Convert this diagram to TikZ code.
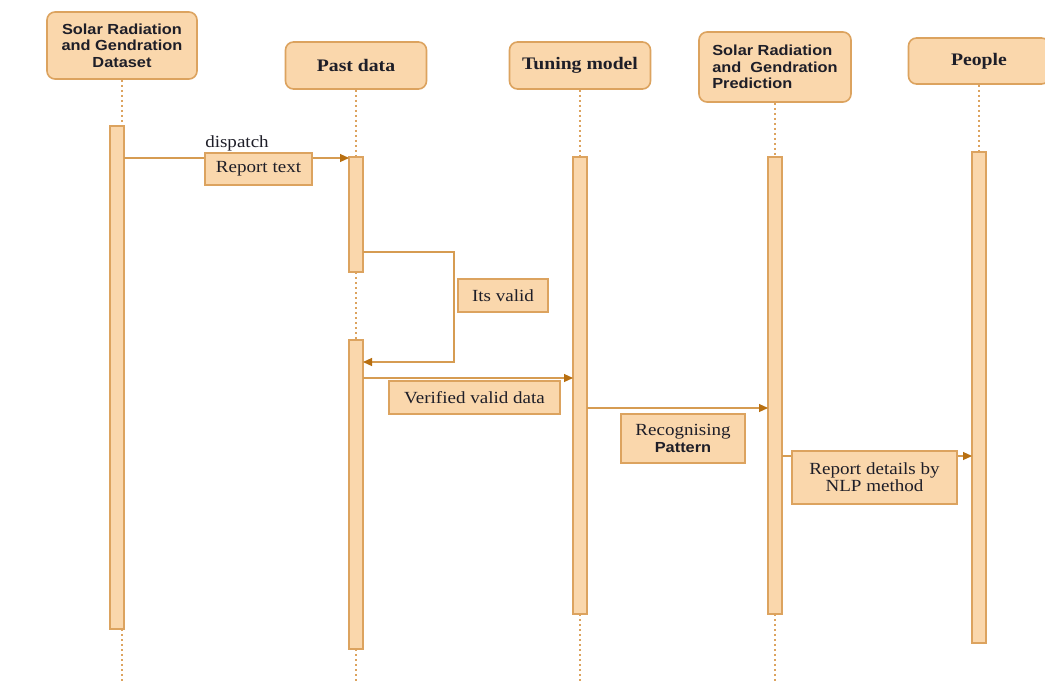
\documentclass[tikz,border=0pt]{standalone}
\usepackage{fontspec}
\setmainfont{Liberation Serif}
\newfontfamily\msgfont{Liberation Serif}[FakeStretch=1.12]
\newfontfamily\ttlfont{Liberation Serif}[FakeStretch=1.12]
\newfontfamily\hdsans{Liberation Sans}[FakeStretch=1.12]
\usetikzlibrary{arrows.meta}

\definecolor{boxfill}{HTML}{FAD7AC}
\definecolor{boxline}{HTML}{DCA35F}
\definecolor{msgline}{HTML}{D69C52}
\definecolor{tipcol}{HTML}{B86F10}
\definecolor{inkc}{HTML}{1E1E28}

\tikzset{
  head/.style={draw=boxline, fill=boxfill, line width=1.6pt, rounded corners=8pt,
    inner sep=0pt, text=inkc, align=center},
  sanshead/.style={head, font=\hdsans\bfseries\fontsize{14.6}{16.5}\selectfont},
  serifhead/.style={head, minimum width=141pt, font=\ttlfont\bfseries\fontsize{17.6}{20}\selectfont},
  act/.style={draw=boxline, fill=boxfill, line width=1.4pt, minimum width=14pt,
    inner sep=0pt, outer sep=0pt},
  life/.style={draw=boxline, line width=2pt, dash pattern=on 2pt off 3pt},
  msg/.style={draw=msgline, line width=1.2pt,
    -{Triangle[length=9pt,width=8pt,color=tipcol]}},
  lbl/.style={draw=boxline, fill=boxfill, line width=1.5pt, inner sep=0pt,
    text=inkc, align=center, font=\msgfont\fontsize{17}{17}\selectfont},
  plain/.style={text=inkc, inner sep=0pt, font=\msgfont\fontsize{17}{17}\selectfont}
}

\begin{document}
\begin{tikzpicture}[x=1pt,y=-1pt]
\fill[white] (0,0) rectangle (1045,681);
\useasboundingbox (0,0) rectangle (1045,681);

% participants
\node[sanshead, minimum width=150pt, minimum height=67pt] (dsHead) at (122,45.5)
  {Solar Radiation\\and Gendration\\Dataset};
\node[serifhead, minimum height=47pt] (pastHead) at (356,65.5) {Past data};
\node[serifhead, minimum height=47pt] (tuneHead) at (580,65.5) {Tuning model};
\node[sanshead, align=left, minimum width=152pt, minimum height=70pt] (predHead) at (775,67)
  {Solar Radiation\\and~~Gendration\\Prediction};
\node[serifhead, minimum height=46pt] (peopHead) at (979,61) {People};

% activation bars
\node[act, minimum height=503pt] (dsAct) at (117,377.5) {};
\node[act, minimum height=115pt] (pastAct1) at (356,214.5) {};
\node[act, minimum height=309pt] (pastAct2) at (356,494.5) {};
\node[act, minimum height=457pt] (tuneAct) at (580,385.5) {};
\node[act, minimum height=457pt] (predAct) at (775,385.5) {};
\node[act, minimum height=491pt] (peopAct) at (979,397.5) {};

% lifelines
\coordinate (bot) at (0,681);
\draw[life] (dsHead.south) -- (dsHead.south |- dsAct.north);
\draw[life] (dsHead.south |- dsAct.south) -- (dsHead.south |- bot);
\draw[life] (pastHead.south) -- (pastAct1.north);
\draw[life] (pastAct1.south) -- (pastAct2.north);
\draw[life] (pastAct2.south) -- (pastAct2.south |- bot);
\draw[life] (tuneHead.south) -- (tuneAct.north);
\draw[life] (tuneAct.south) -- (tuneAct.south |- bot);
\draw[life] (predHead.south) -- (predAct.north);
\draw[life] (predAct.south) -- (predAct.south |- bot);
\draw[life] (peopHead.south) -- (peopAct.north);

% messages
\coordinate (yDisp) at (0,158);
\coordinate (sTop) at (454,252);
\coordinate (sBot) at (454,362);
\coordinate (yVer) at (0,378);
\coordinate (yRec) at (0,408);
\coordinate (yNlp) at (0,456);

\draw[msg] (dsAct.east |- yDisp) -- (pastAct1.west |- yDisp);
\draw[msg] (pastAct1.east |- sTop) -- (sTop) -- (sBot) -- (pastAct2.east |- sBot);
\draw[msg] (pastAct2.east |- yVer) -- (tuneAct.west |- yVer);
\draw[msg] (tuneAct.east |- yRec) -- (predAct.west |- yRec);
\draw[msg] (predAct.east |- yNlp) -- (peopAct.west |- yNlp);

% message labels
\node[plain] (dispLbl) at (237,143) {dispatch};
\node[lbl, minimum width=107pt, minimum height=32pt] (rptLbl) at (258.5,169) {Report text};
\node[lbl, minimum width=90pt, minimum height=33pt] (validLbl) at (503,295.5) {Its valid};
\node[lbl, minimum width=171pt, minimum height=33pt] (verLbl) at (474.5,397.5) {Verified valid data};
\node[lbl, minimum width=124pt, minimum height=49pt] (recLbl) at (683,438.5)
  {Recognising\\{\hdsans\bfseries\fontsize{14.6}{17}\selectfont Pattern}};
\node[lbl, minimum width=165pt, minimum height=53pt] (nlpLbl) at (874.5,477.5)
  {Report details by\\NLP method};
\end{tikzpicture}
\end{document}
